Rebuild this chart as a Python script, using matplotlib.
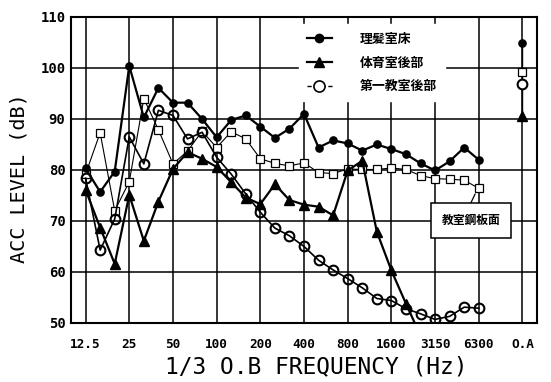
import numpy as np
import matplotlib
matplotlib.use("Agg")
import matplotlib.pyplot as plt
from matplotlib.lines import Line2D

CJK = ["Noto Sans CJK JP", "DejaVu Sans"]
MONO = "DejaVu Sans Mono"

# 1/3 octave band centres (Hz), plus overall level at the far right
BANDS = ["12.5", "16", "20", "25", "31.5", "40", "50", "63", "80", "100",
         "125", "160", "200", "250", "315", "400", "500", "630", "800", "1000",
         "1250", "1600", "2000", "2500", "3150", "4000", "5000", "6300"]
TICK_LABELS = ["12.5", "25", "50", "100", "200", "400", "800", "1600",
               "3150", "6300", "O.A"]

# 理髪室床
barber_floor = [80.3, 75.7, 79.7, 100.4, 90.3, 96.1, 93.2, 93.2, 90.0, 86.4,
                89.8, 90.7, 88.5, 86.3, 88.1, 91.0, 84.4, 85.8, 85.2, 83.8,
                85.0, 84.1, 83.1, 81.3, 79.9, 81.7, 84.4, 82.0]
barber_floor_oa = 104.9

# 体育室後部 (falls below the axis after 2000 Hz)
gym_rear = [76.1, 68.7, 61.6, 75.1, 66.1, 73.8, 80.2, 83.5, 82.2, 80.6,
            77.6, 74.6, 73.3, 77.2, 74.1, 73.2, 72.8, 71.1, 79.9, 81.8,
            67.9, 60.3, 53.8, 47.5]
gym_rear_oa = 90.6

# 第一教室後部
class1_rear = [78.4, 64.3, 70.4, 86.5, 81.2, 91.7, 90.7, 86.1, 87.4, 82.5,
               79.2, 75.3, 71.7, 68.6, 67.1, 65.0, 62.3, 60.4, 58.7, 56.9,
               54.8, 54.4, 52.8, 51.8, 50.7, 51.3, 53.1, 52.9]
class1_rear_oa = 96.9

# 教室鋼板面
steel_plate = [79.2, 87.3, 72.0, 77.7, 94.0, 87.9, 81.2, 83.7, 87.6, 84.4,
               87.5, 86.1, 82.2, 81.3, 80.8, 81.4, 79.5, 79.3, 80.2, 80.1,
               80.1, 80.4, 80.1, 78.9, 78.3, 78.2, 78.0, 76.4]
steel_plate_oa = 99.2

OA_POS = len(BANDS) + 2  # overall level sits one octave past 6300


def main():
    fig = plt.figure(figsize=(5.51, 3.82), dpi=100)
    ax = fig.add_axes([0.1289, 0.1545, 0.8457, 0.801])

    x = np.arange(len(BANDS))

    ax.plot(x, steel_plate, color="black", lw=0.8, marker="s", ms=6,
            mfc="white", mec="black", mew=0.9, zorder=3)
    ax.plot(x, class1_rear, color="black", lw=1.2, marker="o", ms=7,
            mfc="none", mec="black", mew=1.5, zorder=4)
    ax.plot(x[:len(gym_rear)], gym_rear, color="black", lw=1.6, marker="^",
            ms=6.5, mfc="black", mec="black", zorder=5)
    ax.plot(x, barber_floor, color="black", lw=1.6, marker="o", ms=5.2,
            mfc="black", mec="black", zorder=6)

    # overall levels, joined by a vertical stroke
    oa = [barber_floor_oa, steel_plate_oa, class1_rear_oa, gym_rear_oa]
    ax.plot([OA_POS, OA_POS], [min(oa), max(oa)], color="black", lw=1.0, zorder=2)
    ax.plot(OA_POS, barber_floor_oa, "o", ms=5.2, color="black", zorder=6)
    ax.plot(OA_POS, steel_plate_oa, "s", ms=6, mfc="white", mec="black",
            mew=0.9, zorder=5)
    ax.plot(OA_POS, class1_rear_oa, "o", ms=7, mfc="white", mec="black",
            mew=1.5, zorder=5)
    ax.plot(OA_POS, gym_rear_oa, "^", ms=6.5, color="black", zorder=6)

    ax.set_xlim(-1, OA_POS + 1)
    ax.set_ylim(50, 110)
    ax.set_xticks(list(range(0, len(BANDS), 3)) + [OA_POS])
    ax.set_xticklabels(TICK_LABELS)
    ax.set_yticks(np.arange(50, 111, 10))
    ax.tick_params(length=0)
    ax.tick_params(axis="x", pad=11, labelsize=9.2)
    ax.tick_params(axis="y", pad=4, labelsize=10)
    for lab in ax.get_xticklabels() + ax.get_yticklabels():
        lab.set_family(MONO)
        lab.set_weight("bold")
    ax.grid(True, color="black", lw=1.1)
    ax.set_axisbelow(True)
    for s in ax.spines.values():
        s.set_linewidth(1.5)

    ax.set_xlabel("1/3 O.B FREQUENCY (Hz)", family=MONO, fontsize=16.5)
    ax.set_ylabel("ACC LEVEL (dB)", family=MONO, fontsize=14.5)
    ax.xaxis.set_label_coords(0.526, -0.105)
    ax.yaxis.set_label_coords(-0.092, 0.474)

    handles = [
        Line2D([], [], color="black", lw=1.6, marker="o", ms=6, mfc="black"),
        Line2D([], [], color="black", lw=1.6, marker="^", ms=7, mfc="black"),
        Line2D([], [], color="black", lw=1.0, ls=(0, (3, 2)), marker="o",
               ms=8, mfc="white", mec="black", mew=1.2),
    ]
    labels = ["理髪室床", "体育室後部", "第一教室後部"]
    leg = ax.legend(handles, labels, loc="upper left",
                    bbox_to_anchor=(0.476, 0.998), frameon=True,
                    fancybox=False, framealpha=1, edgecolor="white",
                    facecolor="white", handlelength=1.9, handletextpad=2.2,
                    labelspacing=0.75, borderpad=0.6,
                    prop={"family": CJK, "size": 9.3, "weight": "bold"})
    leg.set_zorder(10)

    ax.annotate("教室鋼板面", xy=(26.75, 75.3), xytext=(26.5, 70.1),
                ha="center", va="center", fontsize=8.5, fontweight="bold",
                family=CJK, zorder=10,
                bbox=dict(boxstyle="square,pad=0.9", fc="white", ec="black",
                          lw=1.1),
                arrowprops=dict(arrowstyle="-", lw=0.9, color="black",
                                relpos=(0.4, 1.0), shrinkA=0, shrinkB=0))

    fig.savefig("out.png", dpi=100)
    plt.close(fig)


if __name__ == "__main__":
    main()
